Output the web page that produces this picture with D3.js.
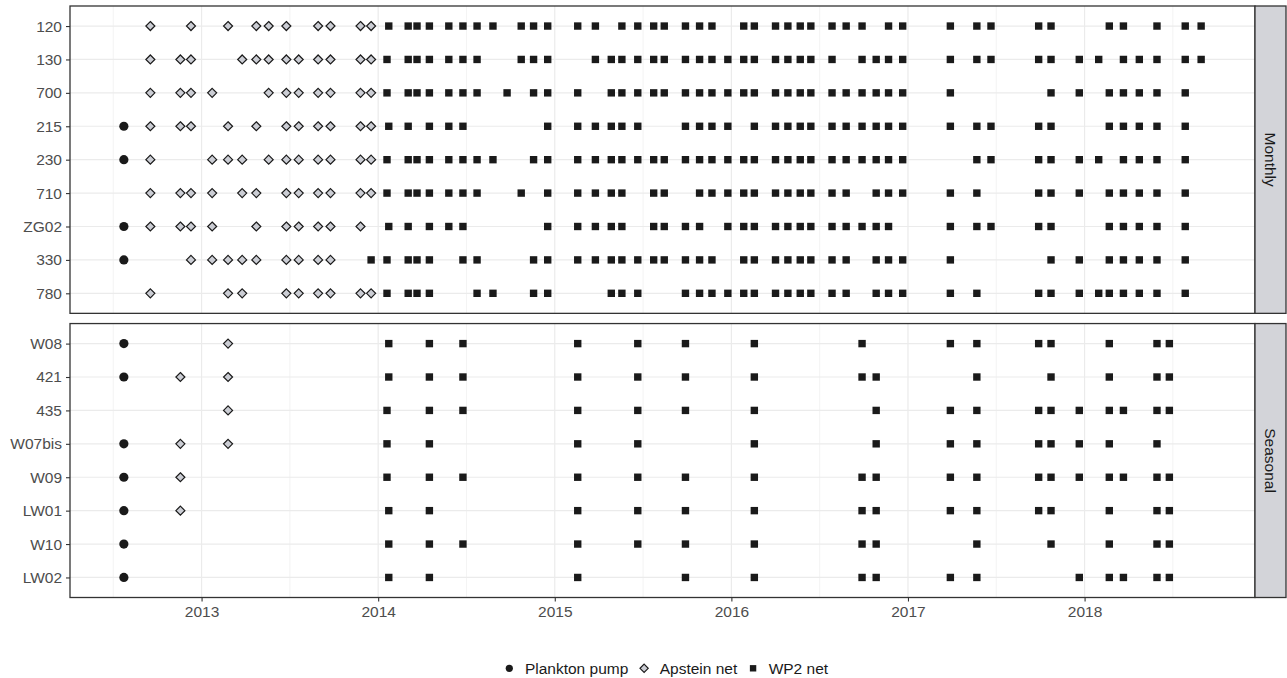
<!DOCTYPE html>
<html><head><meta charset="utf-8">
<script src="https://cdn.jsdelivr.net/npm/d3@7"></script>
<style>
body{margin:0;background:#fff}
text{font-family:"Liberation Sans",Arial,Helvetica,sans-serif}
</style>
</head><body>
<svg id="chart" width="1287" height="678"></svg>
<script>
// ---------- data (decimal years) ----------
const monthlyStations = ["120","130","700","215","230","710","ZG02","330","780"];
const seasonalStations = ["W08","421","435","W07bis","W09","LW01","W10","LW02"];
const panelLabels = ["Monthly","Seasonal"];
const gearLabels = ["Plankton pump","Apstein net","WP2 net"];
const yearTicks = [2013,2014,2015,2016,2017,2018];
const minorTicks = [2012.5,2013.5,2014.5,2015.5,2016.5,2017.5,2018.5];

const pumpDates = {
  "215":[2012.56],"230":[2012.56],"ZG02":[2012.56],"330":[2012.56],
  "W08":[2012.56],"421":[2012.56],"W07bis":[2012.56],"W09":[2012.56],
  "LW01":[2012.56],"W10":[2012.56],"LW02":[2012.56]
};

const apsteinDates = {
  "120":[2012.71,2012.94,2013.15,2013.31,2013.38,2013.48,2013.66,2013.73,2013.90,2013.96],
  "130":[2012.71,2012.88,2012.94,2013.23,2013.31,2013.38,2013.48,2013.55,2013.66,2013.73,2013.90,2013.96],
  "700":[2012.71,2012.88,2012.94,2013.06,2013.38,2013.48,2013.55,2013.66,2013.73,2013.90,2013.96],
  "215":[2012.71,2012.88,2012.94,2013.15,2013.31,2013.48,2013.55,2013.66,2013.73,2013.90,2013.96],
  "230":[2012.71,2013.06,2013.15,2013.23,2013.38,2013.48,2013.55,2013.66,2013.73,2013.90,2013.96],
  "710":[2012.71,2012.88,2012.94,2013.06,2013.23,2013.31,2013.48,2013.55,2013.66,2013.73,2013.90,2013.96],
  "ZG02":[2012.71,2012.88,2012.94,2013.06,2013.31,2013.48,2013.55,2013.66,2013.73,2013.90],
  "330":[2012.94,2013.06,2013.15,2013.23,2013.31,2013.48,2013.55,2013.66,2013.73],
  "780":[2012.71,2013.15,2013.23,2013.48,2013.55,2013.66,2013.73,2013.90,2013.96],
  "W08":[2013.15],
  "421":[2012.88,2013.15],
  "435":[2013.15],
  "W07bis":[2012.88,2013.15],
  "W09":[2012.88],
  "LW01":[2012.88]
};

const wp2Dates = {
  "120":[2014.06,2014.17,2014.22,2014.29,2014.40,2014.48,2014.56,2014.65,2014.81,2014.88,2014.96,
         2015.13,2015.23,2015.38,2015.47,2015.56,2015.62,2015.74,2015.82,2015.89,
         2016.07,2016.13,2016.25,2016.32,2016.39,2016.45,2016.57,2016.65,2016.74,2016.89,2016.97,
         2017.24,2017.39,2017.47,2017.74,2017.81,2018.14,2018.22,2018.41,2018.57,2018.66],
  "130":[2014.05,2014.17,2014.22,2014.29,2014.40,2014.48,2014.56,2014.81,2014.88,2014.96,
         2015.23,2015.32,2015.38,2015.47,2015.56,2015.62,2015.74,2015.82,2015.89,2015.98,
         2016.07,2016.13,2016.25,2016.32,2016.39,2016.45,2016.57,2016.74,2016.82,2016.89,2016.97,
         2017.24,2017.39,2017.47,2017.74,2017.81,2017.97,2018.08,2018.22,2018.31,2018.41,2018.57,2018.66],
  "700":[2014.05,2014.17,2014.22,2014.29,2014.40,2014.48,2014.56,2014.73,2014.88,2014.96,
         2015.13,2015.32,2015.38,2015.47,2015.56,2015.62,2015.74,2015.82,2015.89,2015.98,
         2016.07,2016.13,2016.25,2016.32,2016.39,2016.45,2016.57,2016.65,2016.74,2016.82,2016.89,2016.97,
         2017.24,2017.81,2017.97,2018.14,2018.22,2018.31,2018.41,2018.57],
  "215":[2014.06,2014.17,2014.29,2014.40,2014.48,2014.96,
         2015.13,2015.23,2015.32,2015.38,2015.47,2015.74,2015.82,2015.89,2015.98,
         2016.13,2016.25,2016.32,2016.39,2016.45,2016.57,2016.65,2016.74,2016.82,2016.89,2016.97,
         2017.24,2017.39,2017.47,2017.74,2017.81,2018.14,2018.22,2018.31,2018.41,2018.57],
  "230":[2014.05,2014.17,2014.22,2014.29,2014.40,2014.48,2014.56,2014.65,2014.88,2014.96,
         2015.13,2015.23,2015.32,2015.38,2015.47,2015.56,2015.62,2015.74,2015.82,2015.89,2015.98,
         2016.07,2016.13,2016.25,2016.32,2016.39,2016.45,2016.57,2016.65,2016.74,2016.82,2016.89,2016.97,
         2017.39,2017.47,2017.74,2017.81,2017.97,2018.08,2018.22,2018.31,2018.41,2018.57],
  "710":[2014.05,2014.17,2014.22,2014.29,2014.40,2014.48,2014.56,2014.81,2014.96,
         2015.13,2015.23,2015.32,2015.38,2015.56,2015.62,2015.82,2015.89,2015.98,
         2016.07,2016.13,2016.25,2016.32,2016.39,2016.45,2016.57,2016.65,2016.82,2016.89,2016.97,
         2017.24,2017.39,2017.74,2017.81,2017.97,2018.14,2018.22,2018.31,2018.41,2018.57],
  "ZG02":[2014.06,2014.17,2014.29,2014.40,2014.48,2014.96,
         2015.13,2015.23,2015.32,2015.38,2015.56,2015.62,2015.74,2015.82,2015.98,
         2016.07,2016.13,2016.25,2016.32,2016.39,2016.45,2016.57,2016.65,2016.74,2016.82,2016.89,
         2017.24,2017.39,2017.47,2017.74,2017.81,2018.14,2018.22,2018.31,2018.41,2018.57],
  "330":[2013.96,2014.05,2014.17,2014.22,2014.29,2014.48,2014.56,2014.88,2014.96,
         2015.13,2015.23,2015.32,2015.38,2015.47,2015.56,2015.62,2015.74,2015.82,2015.89,
         2016.07,2016.13,2016.25,2016.32,2016.39,2016.45,2016.57,2016.65,2016.82,2016.89,2016.97,
         2017.24,2017.81,2017.97,2018.14,2018.22,2018.31,2018.41,2018.57],
  "780":[2014.05,2014.17,2014.22,2014.29,2014.56,2014.65,2014.88,2014.96,
         2015.32,2015.38,2015.47,2015.74,2015.82,2015.89,2015.98,
         2016.07,2016.13,2016.25,2016.32,2016.39,2016.45,2016.57,2016.65,2016.82,2016.89,2016.97,
         2017.24,2017.39,2017.74,2017.81,2017.97,2018.08,2018.14,2018.22,2018.31,2018.41,2018.57],
  "W08":[2014.06,2014.29,2014.48,2015.13,2015.47,2015.74,2016.13,2016.74,
         2017.24,2017.39,2017.74,2017.81,2018.14,2018.41,2018.48],
  "421":[2014.06,2014.29,2014.48,2015.13,2015.47,2015.74,2016.13,2016.74,2016.82,
         2017.39,2017.81,2018.14,2018.41,2018.48],
  "435":[2014.05,2014.29,2014.48,2015.13,2015.47,2015.74,2016.13,2016.82,
         2017.24,2017.39,2017.74,2017.81,2017.97,2018.14,2018.22,2018.41,2018.48],
  "W07bis":[2014.05,2014.29,2015.13,2015.47,2016.13,2016.82,
         2017.24,2017.39,2017.74,2017.81,2017.97,2018.14,2018.41],
  "W09":[2014.05,2014.29,2014.48,2015.13,2015.47,2015.74,2016.13,2016.74,2016.82,
         2017.24,2017.39,2017.74,2017.81,2017.97,2018.14,2018.22,2018.41,2018.48],
  "LW01":[2014.06,2014.29,2015.13,2015.47,2015.74,2016.13,2016.74,2016.82,
         2017.24,2017.39,2017.74,2017.81,2018.14,2018.41,2018.48],
  "W10":[2014.06,2014.29,2014.48,2015.13,2015.47,2015.74,2016.13,2016.74,2016.82,
         2017.39,2017.81,2018.14,2018.41,2018.48],
  "LW02":[2014.06,2014.29,2015.13,2015.74,2016.13,2016.74,2016.82,
         2017.24,2017.39,2017.97,2018.14,2018.22,2018.41,2018.48]
};

// ---------- build records ----------
const gearSources = [pumpDates, apsteinDates, wp2Dates];
const records = [];
gearSources.forEach((src, gi) => {
  Object.keys(src).forEach(st => src[st].forEach(t => records.push({station: st, time: t, gear: gearLabels[gi]})));
});

// ---------- layout ----------
const svg = d3.select("#chart");
const L = 70, R = 1255, TOP = 6, BOTTOM = 597.5, GAP = 10.2;
const STRIP_W = 31;
const units = [monthlyStations.length - 1 + 1.2, seasonalStations.length - 1 + 1.2];
const unitPx = (BOTTOM - TOP - GAP) / (units[0] + units[1]);
const panels = [
  {label: panelLabels[0], stations: monthlyStations, y0: TOP, y1: TOP + units[0]*unitPx},
  {label: panelLabels[1], stations: seasonalStations, y0: TOP + units[0]*unitPx + GAP, y1: BOTTOM}
];

const ext = d3.extent(records, d => d.time);
const pad = (ext[1] - ext[0]) * 0.05;
const x = d3.scaleLinear().domain([ext[0] - pad, ext[1] + pad]).range([L, R]);

const INK = "#1a1a1a", GRID = "#ebebeb", AXIS = "#4d4d4d", FRAME = "#333333";
const FS = 15.5;
const DK = 0.62625; // d3 diamond2 half-diagonal factor

const symbolFor = {
  "Plankton pump": d3.symbol().type(d3.symbolCircle).size(Math.PI*4.6*4.6),
  "Apstein net": d3.symbol().type(d3.symbolDiamond2).size(Math.pow(4.5/DK,2)),
  "WP2 net": d3.symbol().type(d3.symbolSquare).size(7.4*7.4)
};
const legendSymbolFor = {
  "Plankton pump": d3.symbol().type(d3.symbolCircle).size(Math.PI*3.6*3.6),
  "Apstein net": d3.symbol().type(d3.symbolDiamond2).size(Math.pow(4.1/DK,2)),
  "WP2 net": d3.symbol().type(d3.symbolSquare).size(6.4*6.4)
};
function styleSym(sel, gear){
  if (gear === "Apstein net") sel.attr("fill","#cbcdd4").attr("stroke",INK).attr("stroke-width",1.2);
  else sel.attr("fill",INK).attr("stroke","none");
}

panels.forEach(p => {
  const y = d3.scalePoint().domain(p.stations).range([p.y0, p.y1]).padding(0.6);
  const g = svg.append("g");
  g.append("rect").attr("x",L).attr("y",p.y0).attr("width",R-L).attr("height",p.y1-p.y0).attr("fill","#fff");
  g.selectAll(".mn").data(minorTicks.filter(t => x(t) > L && x(t) < R)).enter().append("line")
    .attr("x1",d=>x(d)).attr("x2",d=>x(d)).attr("y1",p.y0).attr("y2",p.y1)
    .attr("stroke",GRID).attr("stroke-width",0.6);
  g.selectAll(".mj").data(yearTicks).enter().append("line")
    .attr("x1",d=>x(d)).attr("x2",d=>x(d)).attr("y1",p.y0).attr("y2",p.y1)
    .attr("stroke",GRID).attr("stroke-width",1.2);
  g.selectAll(".hg").data(p.stations).enter().append("line")
    .attr("x1",L).attr("x2",R).attr("y1",d=>y(d)).attr("y2",d=>y(d))
    .attr("stroke",GRID).attr("stroke-width",1.2);
  const pts = records.filter(r => p.stations.includes(r.station));
  gearLabels.forEach(gear => {
    g.selectAll(null).data(pts.filter(r => r.gear === gear)).enter().append("path")
      .attr("d", symbolFor[gear]())
      .attr("transform", d => `translate(${x(d.time)},${y(d.station)})`)
      .call(s => styleSym(s, gear));
  });
  g.append("rect").attr("x",L).attr("y",p.y0).attr("width",R-L).attr("height",p.y1-p.y0)
    .attr("fill","none").attr("stroke",FRAME).attr("stroke-width",1.3);
  const ya = g.append("g").attr("transform",`translate(${L},0)`)
    .call(d3.axisLeft(y).tickSize(4).tickPadding(4));
  ya.select(".domain").remove();
  ya.selectAll(".tick line").attr("stroke",FRAME).attr("stroke-width",1.1);
  ya.selectAll(".tick text").attr("fill",AXIS).style("font-size",FS+"px")
    .style("font-family","'Liberation Sans',Arial,sans-serif");
  g.append("rect").attr("x",R).attr("y",p.y0).attr("width",STRIP_W).attr("height",p.y1-p.y0)
    .attr("fill","#d3d4d9").attr("stroke",FRAME).attr("stroke-width",1.3);
  g.append("text").attr("transform",`translate(${R+STRIP_W/2},${(p.y0+p.y1)/2}) rotate(90)`)
    .attr("text-anchor","middle").attr("dy","0.35em").attr("fill",INK)
    .style("font-size",FS+"px").text(p.label);
});

const xa = svg.append("g").attr("transform",`translate(0,${BOTTOM})`)
  .call(d3.axisBottom(x).tickValues(yearTicks).tickFormat(d3.format("d")).tickSize(4).tickPadding(4));
xa.select(".domain").remove();
xa.selectAll(".tick line").attr("stroke",FRAME).attr("stroke-width",1.1);
xa.selectAll(".tick text").attr("fill",AXIS).style("font-size",FS+"px")
  .style("font-family","'Liberation Sans',Arial,sans-serif");

const lg = svg.append("g");
const legendY = 668.3;
let cx = 509.3;
gearLabels.forEach(gear => {
  lg.append("path").attr("d",legendSymbolFor[gear]()).attr("transform",`translate(${cx},${legendY})`).call(s=>styleSym(s,gear));
  const t = lg.append("text").attr("x",cx+15.6).attr("y",legendY).attr("dy","0.35em")
    .attr("fill",INK).style("font-size",FS+"px").text(gear);
  cx = cx + 15.6 + t.node().getComputedTextLength() + 15.8;
});
</script>
</body></html>
